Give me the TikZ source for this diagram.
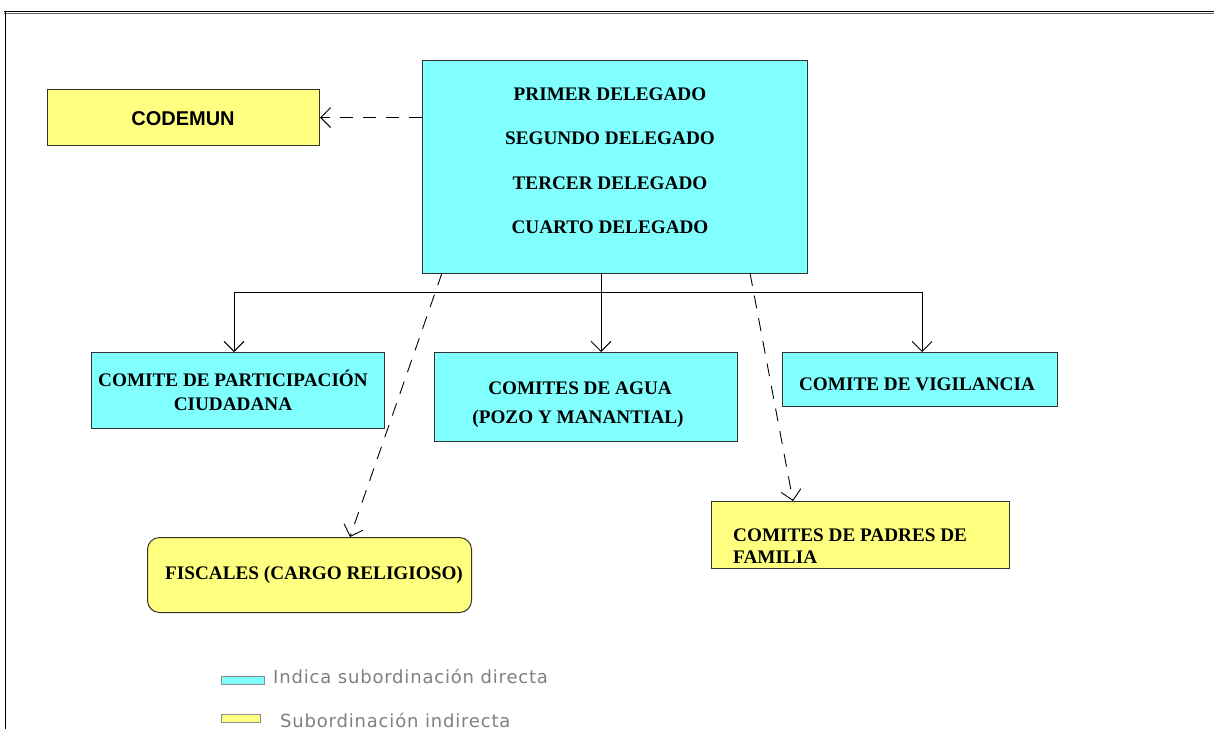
\documentclass[tikz,border=0pt]{standalone}
\usepackage{fontspec}
\setmainfont{Liberation Serif}
\newfontfamily\boxsans{Liberation Sans}
\newfontfamily\legendfont[LetterSpace=4.5]{DejaVu Sans}
\usetikzlibrary{arrows.meta}
\definecolor{cyanbox}{HTML}{80FFFF}
\definecolor{yellowbox}{HTML}{FFFF80}
\definecolor{legendgrey}{HTML}{7F7F7F}
\tikzset{
  box/.style={draw=black!80, line width=1pt, inner sep=0pt, anchor=north west},
  direct/.style={box, fill=cyanbox},
  indirect/.style={box, fill=yellowbox},
  lbl/.style={anchor=base, inner sep=0pt, font=\fontsize{19.2}{22}\selectfont\bfseries},
  lblleft/.style={lbl, anchor=base west},
  arr/.style={line width=0.9pt, -{Straight Barb[length=10pt,width=20pt]}},
  darr/.style={arr, dash pattern=on 13pt off 10pt},
  legendtxt/.style={anchor=base west, inner sep=0pt, text=legendgrey, font=\legendfont\fontsize{18}{20}\selectfont},
  legendbox/.style={draw=black!45, line width=1pt, inner sep=0pt, anchor=north west}
}
\begin{document}
\begin{tikzpicture}[x=1pt,y=-1pt]
\useasboundingbox (0,0) rectangle (1214,729);
% frame
\draw[line width=1.3pt] (4,11.5) -- (1214,11.5);
\draw[line width=0.7pt, black!60] (4,13.7) -- (1214,13.7);
\draw[line width=0.8pt] (5,11) -- (5,729);

% boxes
\node[direct, minimum width=385pt, minimum height=213pt] (top) at (422,60) {};
\node[indirect, minimum width=272pt, minimum height=56pt] (codemun) at (47,89) {};
\node[direct, minimum width=293pt, minimum height=76pt] (cpc) at (91,352) {};
\node[direct, minimum width=303pt, minimum height=89pt] (agua) at (434,352) {};
\node[direct, minimum width=275pt, minimum height=54pt] (vig) at (782,352) {};
\node[indirect, rounded corners=12pt, minimum width=324pt, minimum height=75pt] (fisc) at (147,537) {};
\node[indirect, minimum width=298pt, minimum height=67pt] (padres) at (711,501) {};

% texts
\node[lbl] (t1) at (610,100) {PRIMER DELEGADO};
\node[lbl] (t2) at (610,144) {SEGUNDO DELEGADO};
\node[lbl] (t3) at (610,189) {TERCER DELEGADO};
\node[lbl] (t4) at (610,233) {CUARTO DELEGADO};
\node[anchor=base, inner sep=0pt, font=\boxsans\bfseries\fontsize{20}{22}\selectfont] (tcod) at (183,125) {CODEMUN};
\node[lbl] (tcpc1) at (233,386) {COMITE DE PARTICIPACIÓN};
\node[lbl] (tcpc2) at (233,410) {CIUDADANA};
\node[lbl] (tag1) at (580,394) {COMITES DE AGUA};
\node[lbl] (tag2) at (578,423) {(POZO Y MANANTIAL)};
\node[lbl] (tvig) at (917,390) {COMITE DE VIGILANCIA};
\node[lblleft] (tfis) at (165,579) {FISCALES (CARGO RELIGIOSO)};
\node[lblleft] (tpa1) at (733,541) {COMITES DE PADRES DE};
\node[lblleft] (tpa2) at (733,563) {FAMILIA};

% connectors
\coordinate (busL) at (234,292);
\coordinate (busR) at (922,292);
\coordinate (tsm) at (601,273);
\draw[line width=0.9pt] (busL) -- (busR);
\draw[arr] (busL) -- (busL |- cpc.north);
\draw[arr] (busR) -- (busR |- vig.north);
\draw[arr] (tsm) -- (tsm |- agua.north);
\draw[darr] (top.west |- codemun.east) -- (codemun.east);
\coordinate (dl) at (442,273);
\coordinate (dlend) at (350,537);
\coordinate (dr) at (750,273);
\coordinate (drend) at (793,501);
\draw[darr] (dl) -- (dlend);
\draw[darr] (dr) -- (drend);

% legend
\node[legendbox, fill=cyanbox, minimum width=43pt, minimum height=8pt] (lg1) at (221,676) {};
\node[legendtxt] (lt1) at (273,683) {Indica subordinación directa};
\node[legendbox, fill=yellowbox, minimum width=39pt, minimum height=8pt] (lg2) at (221,714) {};
\node[legendtxt] (lt2) at (280,727) {Subordinación indirecta};
\end{tikzpicture}
\end{document}
